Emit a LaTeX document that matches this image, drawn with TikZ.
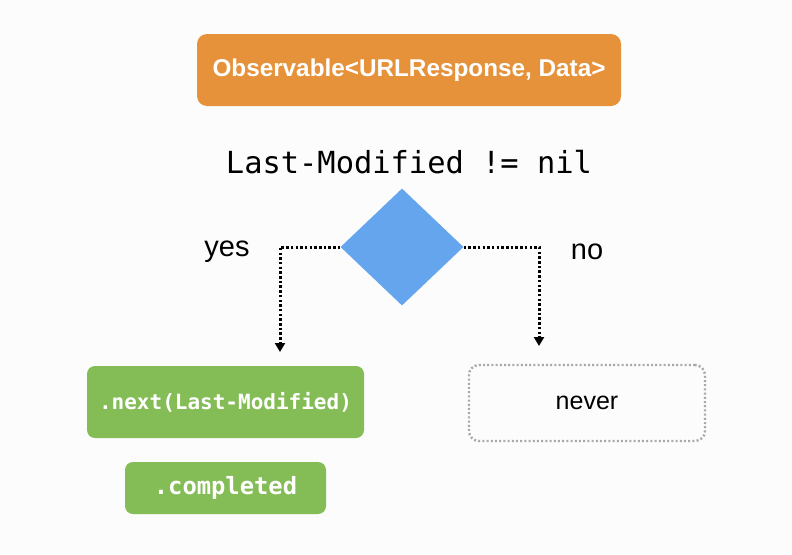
\documentclass[tikz,border=0pt]{standalone}
\usepackage{fontspec}
\setmainfont{Liberation Sans}
\newfontfamily\codefont{DejaVu Sans Mono}
\usetikzlibrary{shapes.geometric,arrows.meta}
\definecolor{obsorange}{HTML}{E5923A}
\definecolor{evgreen}{HTML}{84BC56}
\definecolor{decblue}{HTML}{65A5EE}
\definecolor{nevergray}{HTML}{A8A8A8}

\begin{document}
\begin{tikzpicture}[x=1pt, y=-1pt,
  obs/.style={fill=obsorange, rounded corners=10pt, text=white, font=\bfseries\fontsize{24.3}{28}\selectfont, minimum width=424pt, minimum height=72pt},
  ev/.style={fill=evgreen, rounded corners=8pt, text=white, font=\codefont\bfseries},
  dec/.style={diamond, fill=decblue, inner sep=0pt, minimum width=123pt, minimum height=117pt},
  nv/.style={draw=nevergray, line width=2.4pt, dash pattern=on 2pt off 2.2pt, rounded corners=10pt, minimum width=236pt, minimum height=76pt, font=\fontsize{25}{30}\selectfont},
  a/.style={line width=3pt, dash pattern=on 2.5pt off 2.2pt, -{Triangle[length=9pt,width=10pt]}},
  lbl/.style={font=\fontsize{29}{34}\selectfont}]
\fill[white!99!black] (0,0) rectangle (792,554);
\useasboundingbox (0,0) rectangle (792,554);
\node[obs] (obs) at (409,70) {Observable<URLResponse, Data>};
\node[font=\codefont\fontsize{30.4}{34}\selectfont] (cond) at (409,162) {Last-Modified != nil};
\node[dec] (dec) at (402,247) {};
\node[lbl] (yes) at (227,252) {yes};
\node[lbl] (no) at (587,252) {no};
\node[ev, font=\codefont\bfseries\fontsize{21}{25}\selectfont, minimum width=277pt, minimum height=72pt] (next) at (225.5,402) {.next(Last-Modified)};
\node[ev, font=\codefont\bfseries\fontsize{23.8}{28}\selectfont, minimum width=201pt, minimum height=52pt] (done) at (225.5,488) {.completed};
\node[nv] (never) at (587,403) {never};
\coordinate (yesend) at (280,352);
\coordinate (noend) at (539,346);
\draw[a] (dec.west) -| (yesend);
\draw[a] (dec.east) -| (noend);
\end{tikzpicture}
\end{document}
